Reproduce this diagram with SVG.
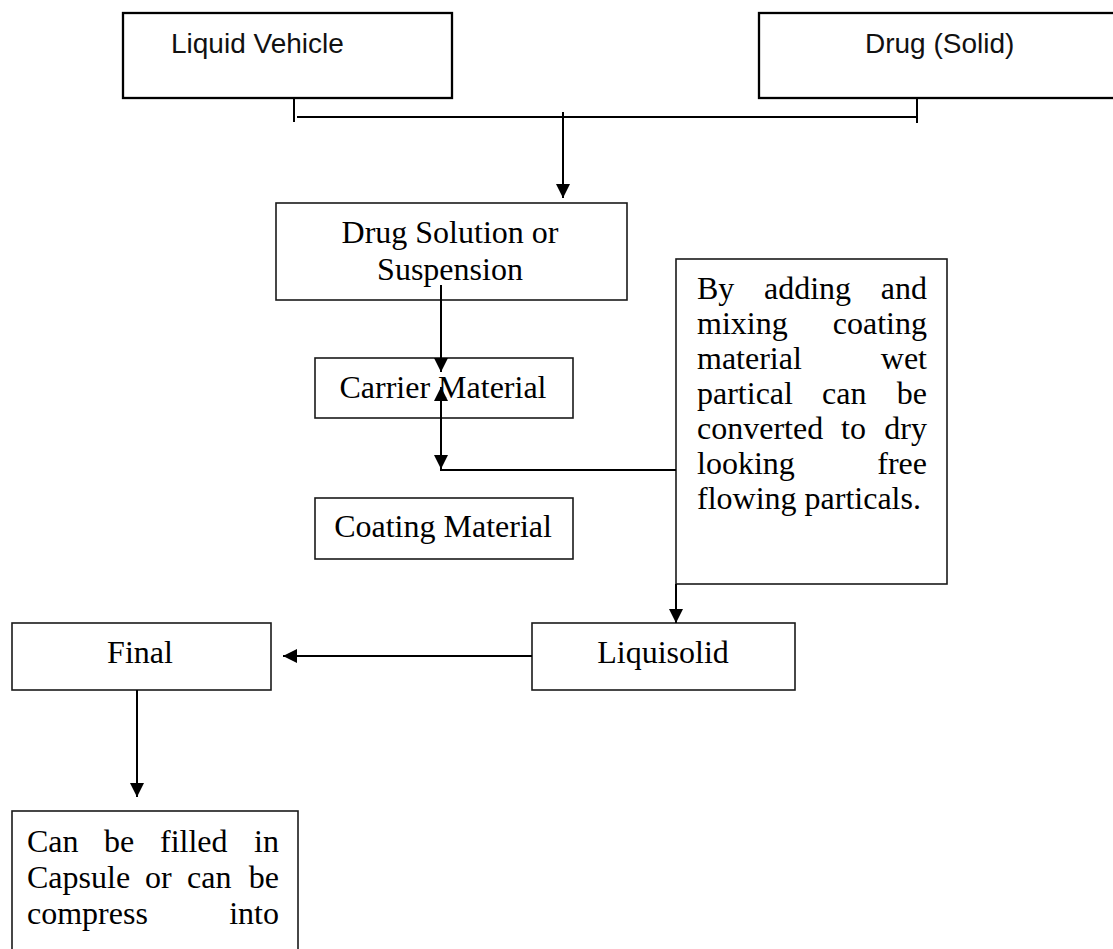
<svg xmlns="http://www.w3.org/2000/svg" width="1113" height="949" viewBox="0 0 1113 949">
<style>
.sbox{fill:#fff;stroke:#000;stroke-width:2.3}
.box{fill:#fff;stroke:#1a1a1a;stroke-width:1.6}
.sans{font-family:"Liberation Sans",Arial,sans-serif;font-size:28px;fill:#111}
.serif{font-family:"Liberation Serif","Times New Roman",serif;font-size:32px;fill:#000}
.mid{text-anchor:middle}
.end{text-anchor:end}
.conn{fill:none;stroke:#000;stroke-width:2}
</style>
<defs>
<marker id="ah" viewBox="0 0 14 14" refX="14" refY="7" markerWidth="14" markerHeight="14" markerUnits="userSpaceOnUse" orient="auto-start-reverse">
<path d="M0,0 L14,7 L0,14 z" fill="#000"/>
</marker>
</defs>
<rect width="1113" height="949" fill="#fff"/>

<g id="liquid-vehicle">
<rect class="sbox" x="123" y="13" width="329" height="85"/>
<text class="sans" x="171" y="53">Liquid Vehicle</text>
</g>

<g id="drug-solid">
<rect class="sbox" x="759" y="13" width="360" height="85"/>
<text class="sans" x="865" y="53">Drug (Solid)</text>
</g>

<g id="drug-solution">
<rect class="box" x="276" y="203" width="351" height="97"/>
<text class="serif mid" x="450" y="243">Drug Solution or</text>
<text class="serif mid" x="450" y="280">Suspension</text>
</g>

<g id="carrier-material">
<rect class="box" x="315" y="358" width="258" height="60"/>
<text class="serif mid" x="443" y="398">Carrier Material</text>
</g>

<g id="coating-material">
<rect class="box" x="315" y="498" width="258" height="61"/>
<text class="serif mid" x="443" y="537">Coating Material</text>
</g>

<g id="mixing-note">
<rect class="box" x="676" y="259" width="271" height="325"/>
<text class="serif" x="697" y="299">By</text>
<text class="serif" x="764" y="299">adding</text>
<text class="serif end" x="927" y="299">and</text>
<text class="serif" x="697" y="334">mixing</text>
<text class="serif end" x="927" y="334">coating</text>
<text class="serif" x="697" y="369">material</text>
<text class="serif end" x="927" y="369">wet</text>
<text class="serif" x="697" y="404">partical</text>
<text class="serif" x="822" y="404">can</text>
<text class="serif end" x="927" y="404">be</text>
<text class="serif" x="697" y="439">converted</text>
<text class="serif" x="841" y="439">to</text>
<text class="serif end" x="927" y="439">dry</text>
<text class="serif" x="697" y="474">looking</text>
<text class="serif end" x="927" y="474">free</text>
<text class="serif" x="697" y="509">flowing particals.</text>
</g>

<g id="liquisolid">
<rect class="box" x="532" y="623" width="263" height="67"/>
<text class="serif mid" x="663" y="663">Liquisolid</text>
</g>

<g id="final">
<rect class="box" x="12" y="623" width="259" height="67"/>
<text class="serif mid" x="140" y="663">Final</text>
</g>

<g id="capsule-note">
<rect class="box" x="12" y="811" width="286" height="150"/>
<text class="serif" x="27" y="852">Can</text>
<text class="serif" x="104" y="852">be</text>
<text class="serif" x="160" y="852">filled</text>
<text class="serif end" x="279" y="852">in</text>
<text class="serif" x="27" y="888">Capsule</text>
<text class="serif" x="145" y="888">or</text>
<text class="serif" x="187" y="888">can</text>
<text class="serif end" x="279" y="888">be</text>
<text class="serif" x="27" y="924">compress</text>
<text class="serif end" x="279" y="924">into</text>
</g>

<g id="connectors">
<line class="conn" x1="294" y1="97" x2="294" y2="122"/>
<line class="conn" x1="917" y1="98" x2="917" y2="123"/>
<line class="conn" x1="297" y1="117" x2="917" y2="117"/>
<line class="conn" x1="563" y1="112" x2="563" y2="198" marker-end="url(#ah)"/>
<line class="conn" x1="441" y1="285" x2="441" y2="372" marker-end="url(#ah)"/>
<line class="conn" x1="441" y1="387" x2="441" y2="469" marker-start="url(#ah)" marker-end="url(#ah)"/>
<line class="conn" x1="440" y1="470" x2="676" y2="470"/>
<line class="conn" x1="676" y1="584" x2="676" y2="623" marker-end="url(#ah)"/>
<line class="conn" x1="532" y1="656" x2="283" y2="656" marker-end="url(#ah)"/>
<line class="conn" x1="137" y1="690" x2="137" y2="797" marker-end="url(#ah)"/>
</g>
</svg>
